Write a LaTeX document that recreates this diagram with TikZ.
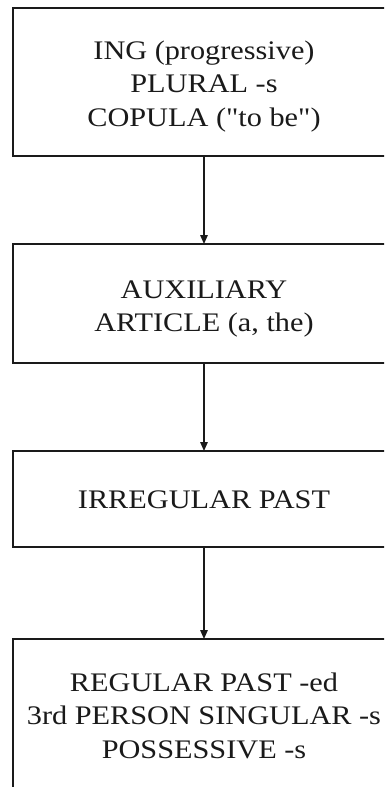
\documentclass[tikz,border=0pt]{standalone}
\usepackage{fontspec}
\setmainfont{Liberation Serif}[FakeStretch=1.13, Ligatures=TeXOff]
\usetikzlibrary{arrows.meta}
\definecolor{ink}{HTML}{1A1A1A}
\begin{document}
\begin{tikzpicture}[x=1pt,y=-1pt,
  stagebox/.style={draw=ink, line width=2pt, rectangle, minimum width=383pt,
    inner sep=0pt, outer sep=0pt},
  stagetext/.style={anchor=north, inner sep=0pt, outer sep=0pt, align=center,
    text=ink, font=\fontsize{26.8pt}{33.5pt}\selectfont},
  flow/.style={draw=ink, line width=1.4pt, -{Triangle[width=7.5pt,length=9pt]}}]
  \useasboundingbox (0,0) rectangle (384,787);
  \clip (0,0) rectangle (384,787);
  \fill[white] (0,0) rectangle (384,787);

  % stage boxes (they run past the right and bottom page edges)
  \node[stagebox, minimum height=148pt] (s1) at (204,82) {};
  \node[stagebox, minimum height=119pt] (s2) at (204,303.5) {};
  \node[stagebox, minimum height=96pt] (s3) at (204,499) {};
  \node[stagebox, minimum height=196pt] (s4) at (204,737) {};

  % morpheme lists
  \node[stagetext] (t1) at (204,40.5) {ING (progressive)\\PLURAL -s\\COPULA ("to be")};
  \node[stagetext] (t2) at (204,280.7) {AUXILIARY\\ARTICLE (a, the)};
  \node[stagetext] (t3) at (204,491) {IRREGULAR PAST};
  \node[stagetext] (t4) at (204,672.5) {REGULAR PAST -ed\\3rd PERSON SINGULAR -s\\POSSESSIVE -s};

  % acquisition order
  \draw[flow] (s1.south) -- (s2.north);
  \draw[flow] (s2.south) -- (s3.north);
  \draw[flow] (s3.south) -- (s4.north);
\end{tikzpicture}
\end{document}
